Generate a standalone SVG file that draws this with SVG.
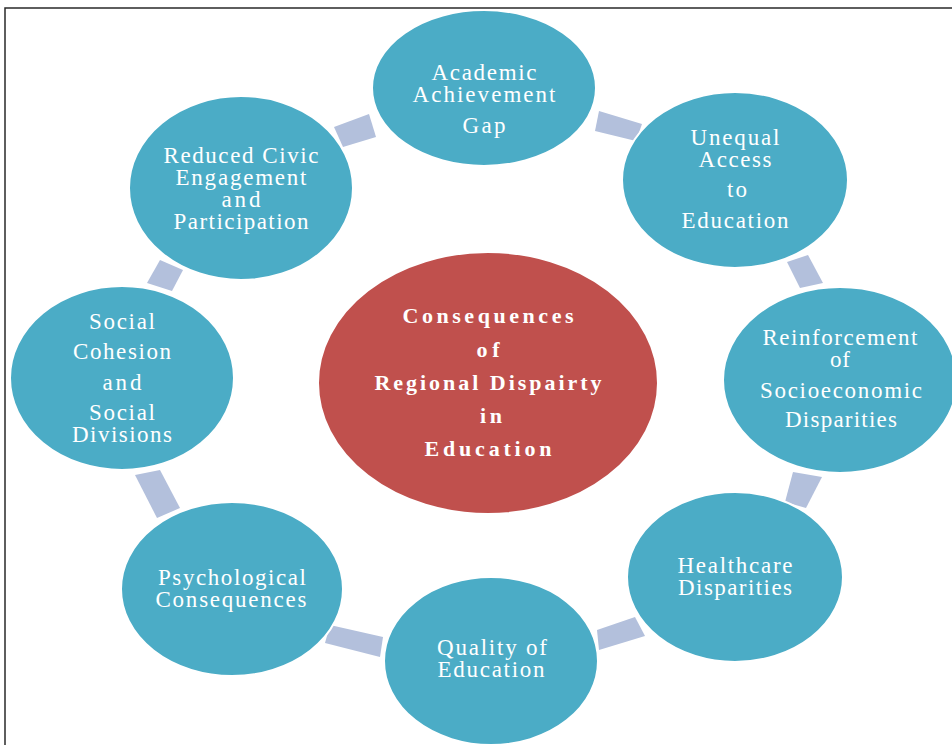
<svg xmlns="http://www.w3.org/2000/svg" width="952" height="745" viewBox="0 0 952 745">
<style>
.n{fill:#4BACC6;stroke:#fff;stroke-width:2}
.c{fill:#C0504D;stroke:#fff;stroke-width:2}
.k{fill:#B3C0DC}
text{font-family:"Liberation Serif","Times New Roman",serif;fill:#fff;text-anchor:middle;font-size:23px}
.b{font-weight:bold;font-size:22px}
</style>
<rect width="952" height="745" fill="#fff"/>
<path d="M5 745 V8 H952" fill="none" stroke="#2a2a2a" stroke-width="1.5"/>
<g id="connectors">
<polygon class="k" points="334,127 369,114 376,137 343,147"/>
<polygon class="k" points="599,111 642,124 636,141 595,131"/>
<polygon class="k" points="787,262 808,255 823,283 800,288"/>
<polygon class="k" points="793,472 822,477 806,508 785,502"/>
<polygon class="k" points="597,630 635,617 645,636 599,650"/>
<polygon class="k" points="330,625 383,637 380,657 325,643"/>
<polygon class="k" points="135,475 160,470 180,508 157,518"/>
<polygon class="k" points="160,260 183,270 172,291 147,283"/>
</g>
<g id="center">
<ellipse class="c" cx="488" cy="383" rx="170" ry="131"/>
<text class="b" x="488" y="323" textLength="171" lengthAdjust="spacing">Consequences</text>
<text class="b" x="488" y="357" textLength="23" lengthAdjust="spacing">of</text>
<text class="b" x="488" y="390" textLength="227" lengthAdjust="spacing">Regional Dispairty</text>
<text class="b" x="491" y="423" textLength="22" lengthAdjust="spacing">in</text>
<text class="b" x="488" y="456" textLength="127" lengthAdjust="spacing">Education</text>
</g>
<g id="academic">
<ellipse class="n" cx="484" cy="88" rx="112" ry="78"/>
<text x="484" y="80" textLength="105" lengthAdjust="spacing">Academic</text>
<text x="484" y="102" textLength="143" lengthAdjust="spacing">Achievement</text>
<text x="484" y="133" textLength="43" lengthAdjust="spacing">Gap</text>
</g>
<g id="unequal">
<ellipse class="n" cx="735" cy="180" rx="113" ry="88"/>
<text x="735" y="145" textLength="89" lengthAdjust="spacing">Unequal</text>
<text x="735" y="167" textLength="73" lengthAdjust="spacing">Access</text>
<text x="737" y="197" textLength="20" lengthAdjust="spacing">to</text>
<text x="735" y="228" textLength="107" lengthAdjust="spacing">Education</text>
</g>
<g id="reinforcement">
<ellipse class="n" cx="840" cy="380" rx="117" ry="93"/>
<text x="840" y="345" textLength="155" lengthAdjust="spacing">Reinforcement</text>
<text x="840" y="367" textLength="20" lengthAdjust="spacing">of</text>
<text x="841" y="398" textLength="162" lengthAdjust="spacing">Socioeconomic</text>
<text x="841" y="427" textLength="112" lengthAdjust="spacing">Disparities</text>
</g>
<g id="healthcare">
<ellipse class="n" cx="735" cy="577" rx="108" ry="85"/>
<text x="735" y="573" textLength="115" lengthAdjust="spacing">Healthcare</text>
<text x="735" y="595" textLength="114" lengthAdjust="spacing">Disparities</text>
</g>
<g id="quality">
<ellipse class="n" cx="491" cy="661" rx="107" ry="84"/>
<text x="492" y="655" textLength="110" lengthAdjust="spacing">Quality of</text>
<text x="491" y="677" textLength="107" lengthAdjust="spacing">Education</text>
</g>
<g id="psychological">
<ellipse class="n" cx="232" cy="589" rx="111" ry="87"/>
<text x="232" y="585" textLength="148" lengthAdjust="spacing">Psychological</text>
<text x="231" y="607" textLength="151" lengthAdjust="spacing">Consequences</text>
</g>
<g id="social">
<ellipse class="n" cx="122" cy="378" rx="112" ry="92"/>
<text x="122" y="329" textLength="66" lengthAdjust="spacing">Social</text>
<text x="122" y="359" textLength="98" lengthAdjust="spacing">Cohesion</text>
<text x="122" y="390" textLength="39" lengthAdjust="spacing">and</text>
<text x="122" y="420" textLength="66" lengthAdjust="spacing">Social</text>
<text x="122" y="442" textLength="100" lengthAdjust="spacing">Divisions</text>
</g>
<g id="civic">
<ellipse class="n" cx="241" cy="188" rx="112" ry="92"/>
<text x="241" y="163" textLength="155" lengthAdjust="spacing">Reduced Civic</text>
<text x="241" y="185" textLength="131" lengthAdjust="spacing">Engagement</text>
<text x="241" y="207" textLength="39" lengthAdjust="spacing">and</text>
<text x="241" y="229" textLength="135" lengthAdjust="spacing">Participation</text>
</g>
</svg>
